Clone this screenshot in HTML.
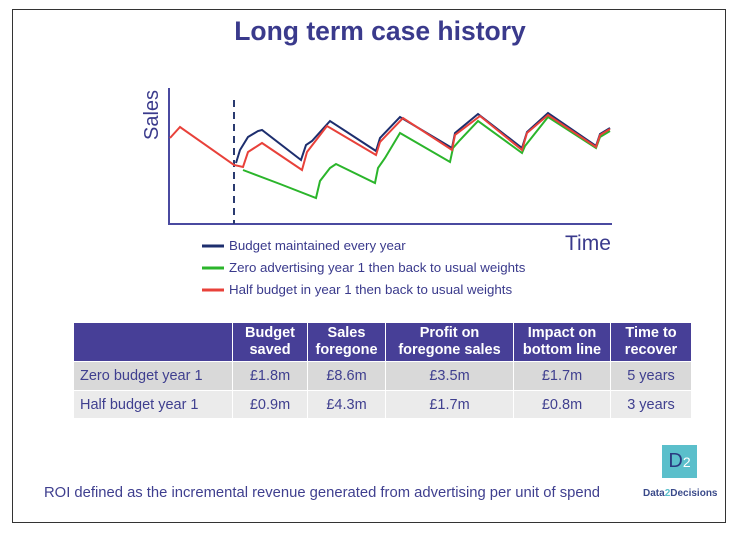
<!DOCTYPE html>
<html><head><style>
body{margin:0;width:738px;height:534px;background:#fff;position:relative;font-family:"Liberation Sans",Arial,sans-serif;overflow:hidden}
.frame{position:absolute;left:12px;top:9px;width:712px;height:512px;border:1px solid #333}
.t{position:absolute;white-space:nowrap}
table{position:absolute;left:73px;top:322px;border-collapse:collapse;font-size:14.5px;color:#3f3f8f}
td{border:1px solid #fff;padding:0;text-align:center}
thead td{background:#473f97;color:#fff;font-weight:bold;height:38px;line-height:17px}
</style></head><body>
<div class="frame"></div>
<div class="t" style="left:0;width:760px;text-align:center;top:16px;font-size:26.5px;font-weight:bold;color:#3a3a8c">Long term case history</div>
<svg width="738" height="534" style="position:absolute;left:0;top:0">
<polyline points="169,88 169,224 612,224" fill="none" stroke="#4a4aa0" stroke-width="2"/>
<line x1="234" y1="100" x2="234" y2="224" stroke="#2a3a70" stroke-width="2" stroke-dasharray="7,5"/>
<polyline fill="none" stroke="#2bb52b" stroke-width="2" points="243,170 280,184 316,198 320,181 330,168 336,164 375,183 378,168 385,158 400,133 450,162 453,148 460,140 478,121 522,153 525,146 548,117 596,148 600,137 610,131"/>
<polyline fill="none" stroke="#1d2e6e" stroke-width="2" points="236,163 240,150 248,137 258,131 262,130 301,160 306,145 312,141 330,121 376,151 380,138 400,117 452,148 455,133 478,114 522,148 527,132 548,113 596,146 600,134 610,128"/>
<polyline fill="none" stroke="#e8413a" stroke-width="2" points="170,138 180,127 234,165 243,167 248,152 262,143 302,170 307,152 327,126 376,155 380,142 403,118 452,150 455,135 480,116 522,150 527,133 548,115 596,147 600,135 610,129"/>
<line x1="202" y1="246" x2="224" y2="246" stroke="#1d2e6e" stroke-width="3"/>
<line x1="202" y1="268" x2="224" y2="268" stroke="#2bb52b" stroke-width="3"/>
<line x1="202" y1="290" x2="224" y2="290" stroke="#e8413a" stroke-width="3"/>
<text x="0" y="0" transform="translate(158,140) rotate(-90)" font-size="20" fill="#3a3a8c" font-family="Liberation Sans">Sales</text>
</svg>
<div class="t" style="left:565px;top:232px;font-size:21px;color:#3a3a8c">Time</div>
<div class="t" style="left:229px;top:238px;font-size:13.3px;color:#3a3a8c">Budget maintained every year</div>
<div class="t" style="left:229px;top:260px;font-size:13.3px;color:#3a3a8c">Zero advertising year 1 then back to usual weights</div>
<div class="t" style="left:229px;top:282px;font-size:13.3px;color:#3a3a8c">Half budget in year 1 then back to usual weights</div>
<table>
<thead><tr><td style="width:158px"></td><td style="width:74px">Budget<br>saved</td><td style="width:77px">Sales<br>foregone</td><td style="width:127px">Profit on<br>foregone sales</td><td style="width:96px">Impact on<br>bottom line</td><td style="width:80px">Time to<br>recover</td></tr></thead>
<tr style="background:#d9d9d9;height:29px"><td style="text-align:left;padding-left:6px">Zero budget year 1</td><td>£1.8m</td><td>£8.6m</td><td>£3.5m</td><td>£1.7m</td><td>5 years</td></tr>
<tr style="background:#ebebeb;height:28px"><td style="text-align:left;padding-left:6px">Half budget year 1</td><td>£0.9m</td><td>£4.3m</td><td>£1.7m</td><td>£0.8m</td><td>3 years</td></tr>
</table>
<div class="t" style="left:44px;top:485px;font-size:14.8px;color:#3f3f8f">ROI defined as the incremental revenue generated from advertising per unit of spend</div>
<div class="t" style="left:662px;top:445px;width:35px;height:33px;background:#5bbfcb;color:#2a3a80;font-size:20px;text-align:center;line-height:33px">D<span style="color:#fff;font-size:14px">2</span></div>
<div class="t" style="left:643px;top:488px;font-size:10px;font-weight:bold;color:#3a4a8a">Data<span style="color:#5bbfcb">2</span>Decisions</div>
</body></html>
